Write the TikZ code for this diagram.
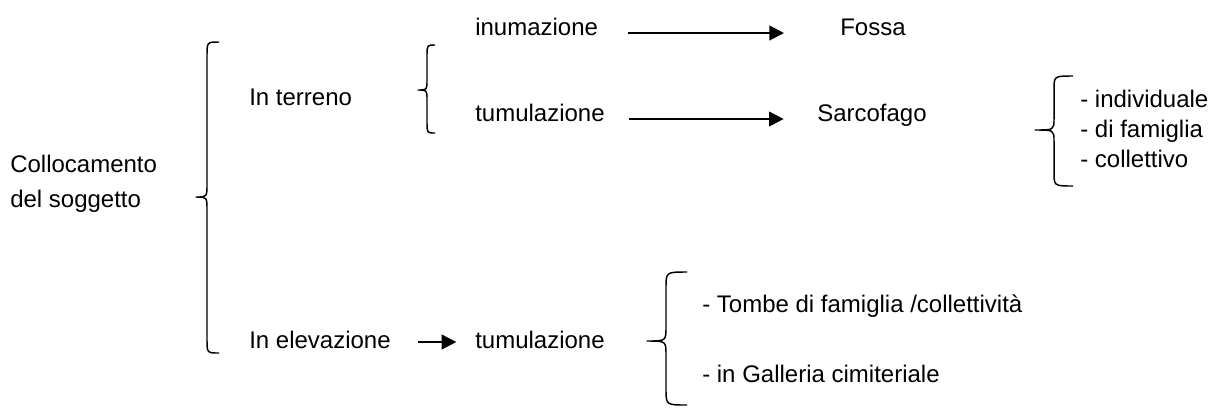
\documentclass[tikz,border=0pt]{standalone}
\usepackage{fontspec}
\setmainfont{Liberation Sans}
\usepackage{tikz}
\usetikzlibrary{arrows.meta}

\tikzset{
  testo/.style={anchor=base west, inner sep=0pt, font=\fontsize{18}{21.6}\selectfont},
  freccia/.style={line width=1.5pt, -{Triangle[length=11pt, width=11pt]}},
  graffa/.style={line width=1.1pt, line join=round}
}

\begin{document}
\begin{tikzpicture}[x=0.75pt,y=0.75pt,yscale=-1,xscale=1]
		\useasboundingbox (0,0) rectangle (1216,412);
		
		% Text Node
		\node[testo] (colloc) at (10,172) {Collocamento};
		\node[testo] (sogg) at (10,207) {del soggetto};
		% Text Node
		\node[testo] (terreno) at (249,105) {In terreno};
		\node[testo] (elevaz) at (249,348) {In elevazione};
		% Text Node
		\node[testo] (inum) at (475,35) {inumazione};
		\node[testo] (tumul) at (475,121) {tumulazione};
		\node[testo] (tumulb) at (475,348) {tumulazione};
		% Text Node
		\node[testo] (fossa) at (840,35) {Fossa};
		\node[testo] (sarco) at (817,121) {Sarcofago};
		% Text Node
		\node[testo] (indiv) at (1080,107) {- individuale};
		\node[testo] (famig) at (1080,137) {- di famiglia};
		\node[testo] (collet) at (1080,167) {- collettivo};
		% Text Node
		\node[testo] (tombe) at (702,312) {- Tombe di famiglia /collettività};
		\node[testo] (galler) at (702,382) {- in Galleria cimiteriale};
		
		% Shape: Brace
		\draw[graffa] (219,42) .. controls (207,42) .. (207,56) -- (207,184) .. controls (207,197) .. (196,197) .. controls (207,197) .. (207,210) -- (207,339) .. controls (207,353) .. (219,353);
		% Shape: Brace
		\draw[graffa] (435,45) .. controls (427,45) .. (427,56) -- (427,80) .. controls (427,90) .. (418,90) .. controls (427,90) .. (427,100) -- (427,122) .. controls (427,133) .. (435,133);
		% Shape: Brace
		\draw[graffa] (1073,76) .. controls (1054,76) .. (1054,90) -- (1054,119) .. controls (1054,130) .. (1035,130) .. controls (1054,130) .. (1054,141) -- (1054,172) .. controls (1054,186) .. (1073,186);
		% Shape: Brace
		\draw[graffa] (687,272) .. controls (666,272) .. (666,288) -- (666,327) .. controls (666,341) .. (647,341) .. controls (666,341) .. (666,355) -- (666,389) .. controls (666,405) .. (687,405);
		
		% Connection
		\draw[freccia] ([xshift=22pt,yshift=-1.5pt]inum.base east) -- ([xshift=-42pt,yshift=-1.5pt]fossa.base west);
		% Connection
		\draw[freccia] ([xshift=18pt,yshift=-1.5pt]tumul.base east) -- ([xshift=-25pt,yshift=-1.5pt]sarco.base west);
		% Connection
		\draw[freccia] ([xshift=20pt,yshift=-4.5pt]elevaz.base east) -- ([xshift=-14pt,yshift=-4.5pt]tumulb.base west);
	\end{tikzpicture}
\end{document}
